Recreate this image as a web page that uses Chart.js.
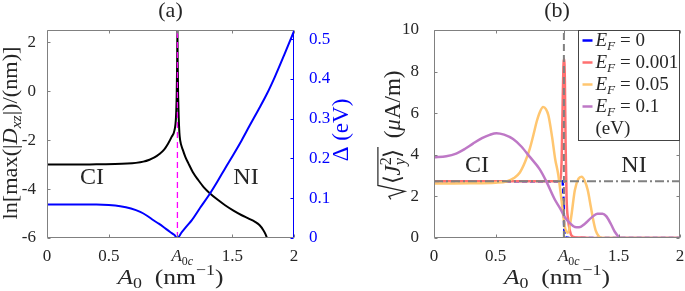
<!DOCTYPE html>
<html>
<head>
<meta charset="utf-8">
<script src="https://cdn.jsdelivr.net/npm/chart.js@4.4.1/dist/chart.umd.min.js"></script>
<style>
html, body { margin: 0; padding: 0; background: #fff; }
#wrap { position: relative; width: 685px; height: 291px; }
canvas { position: absolute; left: 0; top: 0; }
</style>
</head>
<body>
<div id="wrap">
  <canvas id="chartA" width="685" height="291"></canvas>
  <canvas id="chartB" width="685" height="291"></canvas>
</div>
<script>
const SERIF = '"Liberation Serif", "Times New Roman", serif';
const INK = '#262626';
const FRAME = '#808080';
const A0C = 1.056;

// panel (a): ln max|Dxz| (left axis) and gap Delta (right axis)
const dxzX = [0, 0.2, 0.4, 0.55, 0.65, 0.72, 0.78, 0.83, 0.87, 0.91, 0.95, 0.98, 1.01, 1.032, 1.044, 1.05, 1.054, 1.056, 1.058, 1.062, 1.066, 1.072, 1.078, 1.1, 1.12, 1.145, 1.18, 1.226, 1.27, 1.32, 1.38, 1.442, 1.51, 1.577, 1.63, 1.685, 1.72, 1.752, 1.77, 1.785];
const dxzY = [-3.0, -3.0, -2.99, -2.98, -2.96, -2.93, -2.88, -2.8, -2.71, -2.57, -2.38, -2.15, -1.86, -1.6, -1.1, -0.2, 1.2, 2.6, 1.2, -0.2, -1.0, -1.7, -2.0, -2.4, -2.68, -2.95, -3.3, -3.64, -3.93, -4.18, -4.43, -4.66, -4.88, -5.07, -5.2, -5.34, -5.47, -5.68, -5.85, -6.05];
const gapX = [0, 0.2, 0.4, 0.5, 0.593, 0.68, 0.755, 0.81, 0.862, 0.905, 0.943, 0.997, 1.03, 1.056, 1.09, 1.132, 1.173, 1.24, 1.32, 1.38, 1.442, 1.51, 1.577, 1.64, 1.711, 1.78, 1.846, 1.92, 2.0];
const gapY = [0.084, 0.084, 0.084, 0.083, 0.080, 0.074, 0.0655, 0.056, 0.0446, 0.036, 0.0277, 0.015, 0.008, 0, 0.014, 0.03, 0.045, 0.076, 0.112, 0.142, 0.175, 0.21, 0.246, 0.282, 0.322, 0.362, 0.406, 0.46, 0.52];
const aXTicks = [0, 0.5, A0C, 1.5, 2];
const aYTicks = [-6, -4, -2, 0, 2];
const aY1Ticks = [0, 0.1, 0.2, 0.3, 0.4, 0.5];

// panel (b): sqrt<Jy^2> for four Fermi energies
const ef0X = [0, 1.045, 1.052, 1.058, 1.064, 1.075, 1.12, 2.0];
const ef0Y = [2.73, 2.73, 2.0, 0.6, 0.1, 0.02, 0, 0];
const ef001X = [0, 1.0, 1.028, 1.038, 1.046, 1.052, 1.058, 1.064, 1.07, 1.078, 1.09, 1.105, 1.12, 1.15, 1.2, 1.3, 2.0];
const ef001Y = [2.73, 2.73, 2.75, 3.8, 6.5, 8.2, 8.6, 7.6, 4.5, 1.9, 0.9, 0.35, 0.1, 0.03, 0.02, 0, 0];
const ef05X = [0, 0.3, 0.5, 0.59, 0.65, 0.698, 0.74, 0.779, 0.81, 0.835, 0.86, 0.887, 0.91, 0.93, 0.96, 0.985, 1.01, 1.037, 1.064, 1.09, 1.115, 1.145, 1.175, 1.2, 1.225, 1.25, 1.275, 1.295, 1.315, 1.34, 1.37, 2.0];
const ef05Y = [2.62, 2.63, 2.66, 2.72, 2.88, 3.15, 3.65, 4.3, 5.0, 5.6, 6.05, 6.3, 6.2, 5.9, 4.86, 3.8, 3.05, 1.8, 0.53, 0.25, 1.0, 2.3, 2.85, 2.94, 2.75, 2.3, 1.5, 0.85, 0.35, 0.08, 0, 0];
const ef1X = [0, 0.1, 0.18, 0.25, 0.317, 0.39, 0.453, 0.508, 0.57, 0.643, 0.71, 0.779, 0.86, 0.915, 0.982, 1.023, 1.064, 1.105, 1.145, 1.18, 1.227, 1.28, 1.33, 1.37, 1.4, 1.44, 1.47, 1.5, 1.52, 2.0];
const ef1Y = [3.88, 3.93, 4.06, 4.28, 4.54, 4.8, 4.96, 5.04, 4.97, 4.76, 4.4, 3.9, 3.3, 2.7, 1.85, 1.45, 1.0, 0.72, 0.53, 0.52, 0.69, 0.98, 1.17, 1.17, 1.05, 0.65, 0.3, 0.07, 0, 0];
const refLevel = 2.73;
const bXTicks = [0, 0.5, A0C, 1.5, 2];
const bYTicks = [0, 2, 4, 6, 8, 10];
const bLabels = ['0', '0.001', '0.05', '0.1'];
const bColors = ['#0000ff', 'rgb(255,112,112)', 'rgb(255,198,112)', 'rgb(190,120,198)'];

const zip = (xs, ys) => xs.map((x, i) => ({ x: x, y: ys[i] }));

// --- little rich-text helper (italic / sub / sup pieces) ---
function partFont(p, size) {
  const f = p[1] || '';
  const s = (f.includes('s') || f.includes('p')) ? size * 0.7 : size;
  return (f.includes('i') ? 'italic ' : '') + s + 'px ' + SERIF;
}
function richWidth(ctx, parts, size) {
  let w = 0;
  parts.forEach(p => {
    ctx.font = partFont(p, size);
    if (!(p[1] || '').includes('k')) w += ctx.measureText(p[0]).width;
  });
  return w;
}
function drawRich(ctx, parts, x, y, o) {
  const size = o.size;
  ctx.save();
  ctx.translate(x, y);
  if (o.rot) ctx.rotate(o.rot);
  const w = richWidth(ctx, parts, size);
  if (o.fit) ctx.scale(o.fit / w, 1);
  let cx = o.align === 'left' ? 0 : -w / 2;
  const base = size * 0.3;
  ctx.fillStyle = o.color || INK;
  ctx.textAlign = 'left';
  ctx.textBaseline = 'alphabetic';
  parts.forEach(p => {
    const f = p[1] || '';
    ctx.font = partFont(p, size);
    const dy = f.includes('s') ? size * 0.22 : f.includes('p') ? -size * 0.38 : 0;
    ctx.fillText(p[0], cx, base + dy);
    if (!f.includes('k')) cx += ctx.measureText(p[0]).width;
  });
  ctx.restore();
}

const A0cLabel = [['A', 'i'], ['0', 's'], ['c', 'is']];
const xTitle = [['A', 'i'], ['0', 's'], ['  (nm'], ['−1', 'p'], [')']];

function seg(ctx, x1, y1, x2, y2) {
  ctx.beginPath(); ctx.moveTo(x1, y1); ctx.lineTo(x2, y2); ctx.stroke();
}

// frame, inward ticks, titles
function decorate(chart, cfg) {
  const { ctx, chartArea: a, scales } = chart;
  const L = 3;
  ctx.save();
  ctx.lineWidth = 1;
  const l = Math.round(a.left) + 0.5, r = Math.round(a.right) - 0.5;
  const t = Math.round(a.top) + 0.5, b = Math.round(a.bottom) - 0.5;
  ctx.strokeStyle = FRAME;
  seg(ctx, l, t, r, t); seg(ctx, l, b, r, b); seg(ctx, l, t, l, b);
  ctx.strokeStyle = cfg.rightColor || FRAME;
  seg(ctx, r, t, r, b);
  ctx.strokeStyle = FRAME;
  scales.x.ticks.forEach(k => {
    const px = Math.round(scales.x.getPixelForValue(k.value)) + 0.5;
    seg(ctx, px, b, px, b - L); seg(ctx, px, t, px, t + L);
  });
  scales.y.ticks.forEach(k => {
    const py = Math.round(scales.y.getPixelForValue(k.value)) + 0.5;
    seg(ctx, l, py, l + L, py);
    if (!scales.y1) seg(ctx, r, py, r - L, py);
  });
  if (scales.y1) {
    ctx.strokeStyle = '#0000ff';
    scales.y1.ticks.forEach(k => {
      const py = Math.round(scales.y1.getPixelForValue(k.value)) + 0.5;
      seg(ctx, r, py, r - L, py);
    });
  }
  ctx.restore();

  // A0c tick label
  const px = scales.x.getPixelForValue(A0C);
  drawRich(ctx, A0cLabel, px - 6, 256, { size: 17, align: 'left' });
  // x title and panel title
  const mid = (a.left + a.right) / 2;
  drawRich(ctx, xTitle, mid, 277, { size: 22, fit: 106 });
  drawRich(ctx, [[cfg.tag]], mid, 10, { size: 22 });
  // phase labels
  drawRich(ctx, [['CI']], cfg.ci[0], cfg.ci[1], { size: 24 });
  drawRich(ctx, [['NI']], cfg.ni[0], cfg.ni[1], { size: 24 });
}

const decoA = {
  id: 'decoA',
  afterDraw(chart) {
    decorate(chart, { tag: '(a)', rightColor: '#0000ff', ci: [92, 177], ni: [246, 177] });
    const ctx = chart.ctx;
    drawRich(ctx, [['ln[max(|'], ['D', 'i'], ['xz', 'is'], ['|)/(nm)]']], 10, 133,
      { size: 22, rot: -Math.PI / 2, fit: 173 });
    drawRich(ctx, [['Δ (eV)']], 341, 130, { size: 23, rot: -Math.PI / 2, color: '#0000ff' });
  }
};

function drawSqrtTitle(ctx, cx, cy) {
  const size = 23;
  const inner = [['⟨'], ['J', 'i'], ['2', 'pk'], ['y', 'is'], ['⟩']];
  const rest = [[' ('], ['μ', 'i'], ['A/m)']];
  ctx.save();
  const iw = richWidth(ctx, inner, size);
  const rw = richWidth(ctx, rest, size);
  const W = 15 + iw + 5 + rw;
  ctx.translate(cx, cy);
  ctx.rotate(-Math.PI / 2);
  const x0 = -W / 2;
  const b = size * 0.3;
  ctx.strokeStyle = INK;
  ctx.lineWidth = 1.2;
  ctx.beginPath();
  ctx.moveTo(x0, b - 9);
  ctx.lineTo(x0 + 3, b - 11);
  ctx.lineTo(x0 + 8, b + 5);
  ctx.lineTo(x0 + 14, b - 22);
  ctx.lineTo(x0 + 17 + iw, b - 22);
  ctx.stroke();
  drawRich(ctx, inner, x0 + 15, 0, { size: size, align: 'left' });
  drawRich(ctx, rest, x0 + 20 + iw, 0, { size: size, align: 'left' });
  ctx.restore();
}

const decoB = {
  id: 'decoB',
  afterDraw(chart) {
    decorate(chart, { tag: '(b)', ci: [477, 165], ni: [634, 165] });
    const ctx = chart.ctx;
    drawSqrtTitle(ctx, 393, 135);
    // legend box in the top-right corner
    const a = chart.chartArea;
    const bx = 578.5, by = Math.round(a.top) + 0.5, bw = Math.round(a.right) - 0.5 - bx, bh = 110;
    ctx.save();
    ctx.fillStyle = '#fff';
    ctx.fillRect(bx, by, bw, bh);
    ctx.strokeStyle = '#444';
    ctx.lineWidth = 1;
    ctx.strokeRect(bx, by, bw, bh);
    bLabels.forEach((lab, i) => {
      const yy = by + 10 + i * 22;
      ctx.strokeStyle = bColors[i];
      ctx.lineWidth = 2.5;
      seg(ctx, bx + 4, yy, bx + 14, yy);
      drawRich(ctx, [['E', 'i'], ['F', 'is'], [' = '], [lab]], bx + 17, yy, { size: 19, align: 'left' });
    });
    drawRich(ctx, [['(eV)']], bx + 17, by + 10 + 4 * 22, { size: 19, align: 'left' });
    ctx.restore();
  }
};

function tickFont() { return { family: SERIF, size: 17 }; }
function fixedTicks(list) { return s => { s.ticks = list.map(v => ({ value: v })); }; }

const lineDefaults = { pointRadius: 0, cubicInterpolationMode: 'monotone', fill: false };

new Chart(document.getElementById('chartA').getContext('2d'), {
  type: 'line',
  data: {
    datasets: [
      Object.assign({ data: zip(gapX, gapY), borderColor: '#0000ff', borderWidth: 2, yAxisID: 'y1', order: 1 }, lineDefaults),
      Object.assign({ data: [{ x: A0C, y: -6 }, { x: A0C, y: 2.5 }], borderColor: '#ff00ff', borderWidth: 1.3, borderDash: [6, 4], yAxisID: 'y', order: 2 }, lineDefaults, { cubicInterpolationMode: 'default' }),
      Object.assign({ data: zip(dxzX, dxzY), borderColor: '#000', borderWidth: 2, yAxisID: 'y', order: 3 }, lineDefaults)
    ]
  },
  options: {
    responsive: false,
    animation: false,
    events: [],
    layout: { padding: { left: 0, right: 345, top: 30, bottom: 0 } },
    plugins: { legend: { display: false }, tooltip: { enabled: false } },
    scales: {
      x: {
        type: 'linear', min: 0, max: 2,
        afterBuildTicks: fixedTicks(aXTicks),
        afterFit: s => { s.height = 53; },
        grid: { display: false }, border: { display: false },
        ticks: { font: tickFont(), color: INK, padding: 0, maxRotation: 0, autoSkip: false,
          callback: v => (v === A0C ? '' : String(v)) }
      },
      y: {
        position: 'left', min: -6, max: 2.5,
        afterBuildTicks: fixedTicks(aYTicks),
        afterFit: s => { s.width = 47; },
        grid: { display: false }, border: { display: false },
        ticks: { font: tickFont(), color: INK, padding: 3, callback: v => String(v) }
      },
      y1: {
        position: 'right', min: 0, max: 0.523,
        afterBuildTicks: fixedTicks(aY1Ticks),
        afterFit: s => { s.width = 46; },
        grid: { display: false }, border: { display: false },
        ticks: { font: tickFont(), color: '#0000ff', padding: 7, callback: v => String(v) }
      }
    }
  },
  plugins: [decoA]
});

new Chart(document.getElementById('chartB').getContext('2d'), {
  type: 'line',
  data: {
    datasets: [
      Object.assign({ data: [{ x: 0, y: refLevel }, { x: 2, y: refLevel }], borderColor: FRAME, borderWidth: 2, borderDash: [9, 3, 2, 3], order: 0 }, lineDefaults, { cubicInterpolationMode: 'default' }),
      Object.assign({ data: [{ x: A0C, y: 0 }, { x: A0C, y: 10 }], borderColor: FRAME, borderWidth: 2, borderDash: [7, 4], order: 1 }, lineDefaults, { cubicInterpolationMode: 'default' }),
      Object.assign({ data: zip(ef1X, ef1Y), borderColor: bColors[3], borderWidth: 2.5, order: 2 }, lineDefaults),
      Object.assign({ data: zip(ef05X, ef05Y), borderColor: bColors[2], borderWidth: 2.5, order: 3 }, lineDefaults),
      Object.assign({ data: zip(ef001X, ef001Y), borderColor: bColors[1], borderWidth: 2.5, order: 4 }, lineDefaults),
      Object.assign({ data: zip(ef0X, ef0Y), borderColor: bColors[0], borderWidth: 2.5, borderDash: [5, 3], order: 5 }, lineDefaults)
    ]
  },
  options: {
    responsive: false,
    animation: false,
    events: [],
    layout: { padding: { left: 340, right: 5, top: 30, bottom: 0 } },
    plugins: { legend: { display: false }, tooltip: { enabled: false } },
    scales: {
      x: {
        type: 'linear', min: 0, max: 2,
        afterBuildTicks: fixedTicks(bXTicks),
        afterFit: s => { s.height = 53; },
        grid: { display: false }, border: { display: false },
        ticks: { font: tickFont(), color: INK, padding: 0, maxRotation: 0, autoSkip: false,
          callback: v => (v === A0C ? '' : String(v)) }
      },
      y: {
        position: 'left', min: 0, max: 10,
        afterBuildTicks: fixedTicks(bYTicks),
        afterFit: s => { s.width = 94; },
        grid: { display: false }, border: { display: false },
        ticks: { font: tickFont(), color: INK, padding: 7, callback: v => String(v) }
      }
    }
  },
  plugins: [decoB]
});
</script>
</body>
</html>
